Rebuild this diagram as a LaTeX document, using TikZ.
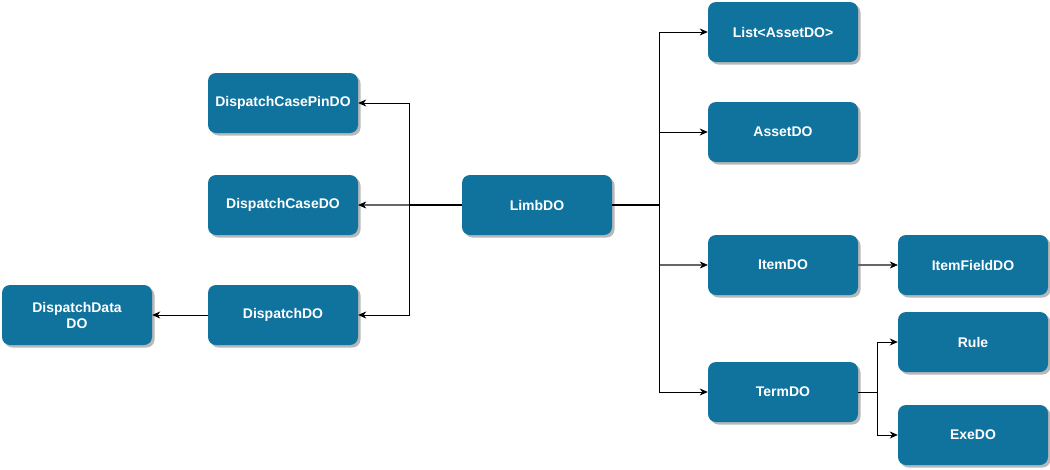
\documentclass[tikz,border=0pt]{standalone}
\usepackage{fontspec}
\setmainfont{Liberation Sans}
\usetikzlibrary{arrows.meta,shadows}
\definecolor{boxblue}{HTML}{10739E}
\definecolor{shadowgray}{HTML}{B8B8B8}
\begin{document}
\begin{tikzpicture}[x=1pt,y=-1pt,
  dobox/.style={rectangle, rounded corners=8pt, fill=boxblue, draw=none,
    minimum width=150pt, minimum height=60pt, inner sep=2pt,
    text=white, font=\fontsize{14}{16}\selectfont\bfseries, align=center,
    drop shadow={shadow xshift=2.5pt, shadow yshift=-2.5pt, fill=shadowgray, opacity=1}},
  arr/.style={draw=black, line width=1pt, -{Stealth[length=8pt,width=7pt,inset=2.5pt]}},
  garr/.style={draw=black!60, line width=1.8pt, -{Stealth[length=8pt,width=7pt,inset=2.5pt,black,line width=0.5pt]}},
  trunk/.style={draw=black, line width=1.8pt}
]
\useasboundingbox (0,0) rectangle (1050,469);

\node[dobox] (pin)   at (283,103) {DispatchCasePinDO};
\node[dobox] (case)  at (283,205) {DispatchCaseDO};
\node[dobox] (disp)  at (283,315) {DispatchDO};
\node[dobox] (data)  at (77,315)  {DispatchData\\DO};
\node[dobox] (limb)  at (537,205) {LimbDO};
\node[dobox] (list)  at (783,32)  {List<AssetDO>};
\node[dobox] (asset) at (783,132) {AssetDO};
\node[dobox] (item)  at (783,265) {ItemDO};
\node[dobox] (field) at (973,265) {ItemFieldDO};
\node[dobox] (rule)  at (973,342) {Rule};
\node[dobox] (term)  at (783,392) {TermDO};
\node[dobox] (exe)   at (973,435) {ExeDO};

\coordinate (lt) at (409.5,205);
\coordinate (rt) at (659.5,205);
\coordinate (tt) at (877.5,392);

% left side
\draw[garr] (lt) -- (case.east);
\draw[arr] (lt) |- (pin.east);
\draw[arr] (lt) |- (disp.east);
\draw[trunk] (limb.west) -- (lt);
\draw[arr] (disp.west) -- (data.east);

% right side
\draw[arr] (rt) |- (list.west);
\draw[arr] (rt) |- (asset.west);
\draw[garr] (rt |- item.west) -- (item.west);
\draw[arr] (rt) |- (term.west);
\draw[trunk] (limb.east) -- (rt);
\draw[garr] (item.east) -- (field.west);
\draw[arr] (term.east) -- (tt) |- (rule.west);
\draw[arr] (tt) |- (exe.west);
\end{tikzpicture}
\end{document}
